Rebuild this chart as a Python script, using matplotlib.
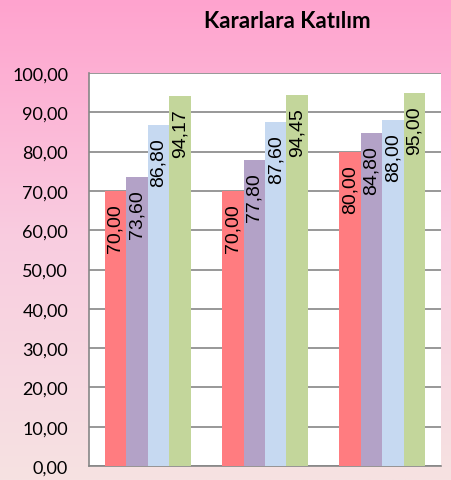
import matplotlib
matplotlib.use("Agg")
import matplotlib.pyplot as plt
import numpy as np
from matplotlib.colors import LinearSegmentedColormap

title = "Kararlara Katılım"
categories = ["1", "2", "3"]
series = {
    "s1": [70.00, 70.00, 80.00],
    "s2": [73.60, 77.80, 84.80],
    "s3": [86.80, 87.60, 88.00],
    "s4": [94.17, 94.45, 95.00],
}
colors = ["#FF7C80", "#B3A2C7", "#C6D9F1", "#C3D69B"]
yticks = np.arange(0, 101, 10)

fig = plt.figure(figsize=(4.51, 4.81), dpi=100)

# gradient background
bg = fig.add_axes([0, 0, 1, 1], zorder=-10)
cmap = LinearSegmentedColormap.from_list("g", ["#F6E2E2", "#F9CDE0", "#FFA3CE"])
grad = np.linspace(0, 1, 256).reshape(-1, 1)
bg.imshow(grad, aspect="auto", cmap=cmap, origin="lower", extent=[0, 1, 0, 1])
bg.axis("off")

ax = fig.add_axes([89/451, 14/481, 352/451, 393/481])
ax.set_facecolor("white")
x = np.arange(len(categories))
w = 0.183
for i, (k, vals) in enumerate(series.items()):
    pos = x + (i - 1.5) * w
    bars = ax.bar(pos, vals, width=w, color=colors[i], zorder=3)
    for b, v in zip(bars, vals):
        ax.annotate(f"{v:.2f}".replace(".", ","),
                    (b.get_x() + b.get_width()/2, v),
                    xytext=(0, -9), textcoords="offset points",
                    rotation=90, ha="center", va="top",
                    fontsize=14, family="Liberation Sans", color="black", zorder=4)

ax.set_xlim(-0.5, 2.5)
ax.set_ylim(0, 100)
ax.set_yticks(yticks)
ax.set_yticklabels([f"{t:.2f}".replace(".", ",") for t in yticks],
                   fontsize=13, family="Lato")
ax.set_xticks([])
ax.yaxis.grid(True, color="#868686", linewidth=1.2, zorder=0)
ax.tick_params(axis="y", length=0, pad=15)
for s in ["top", "right"]:
    ax.spines[s].set_visible(False)
ax.spines["left"].set_color("#868686")
ax.spines["bottom"].set_color("#868686")
ax.spines["left"].set_linewidth(1.2)
ax.spines["bottom"].set_linewidth(1.2)

fig.text(287/451, 1 - 22/481, title, ha="center", va="center",
         fontsize=16, fontweight="bold", family="Lato")

fig.savefig("out.png", dpi=100)
